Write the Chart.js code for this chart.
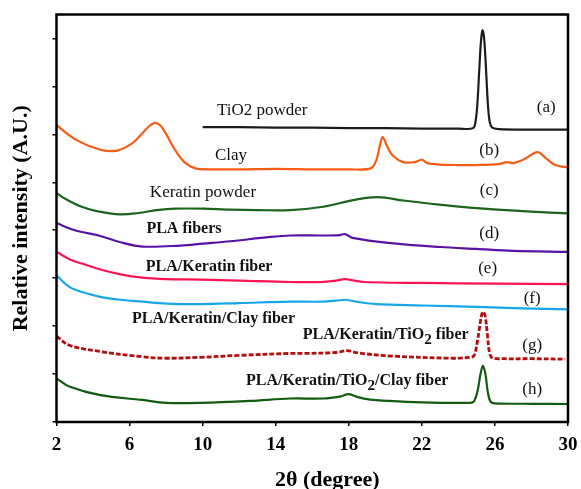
<!DOCTYPE html>
<html>
<head>
<meta charset="utf-8">
<script src="https://cdn.jsdelivr.net/npm/chart.js@4.4.0/dist/chart.umd.min.js"></script>
<style>
  html, body { margin: 0; padding: 0; background: #fff; }
</style>
</head>
<body>
<canvas id="xrd" width="581" height="489"></canvas>
<script>
// XRD patterns, 2-theta vs relative intensity (stacked, arbitrary units)

const tio2X = [10, 12, 14, 16, 18, 20, 22, 24, 24.8, 24.95, 25.05, 25.15, 25.25, 25.33, 25.42, 25.52, 25.62, 25.72, 25.85, 26.2, 28, 30];
const tio2Y = [6.15, 6.15, 6.14, 6.14, 6.13, 6.13, 6.12, 6.12, 6.13, 6.3, 6.7, 7.4, 8.0, 8.17, 7.95, 7.3, 6.6, 6.25, 6.14, 6.11, 6.1, 6.1];

const clayX = [2, 3.1, 4.4, 5.3, 6.1, 6.6, 7.1, 7.4, 7.7, 7.95, 8.5, 9.0, 9.6, 10.5, 12, 14, 16, 18, 19.2, 19.5, 19.75, 19.86, 20.1, 20.4, 20.98, 21.6, 22.0, 22.3, 23, 24, 25, 26.2, 26.66, 27, 27.6, 28.33, 28.8, 29.3, 30];
const clayY = [6.19, 5.88, 5.68, 5.66, 5.8, 5.98, 6.18, 6.24, 6.18, 6.04, 5.67, 5.42, 5.29, 5.27, 5.27, 5.28, 5.27, 5.27, 5.29, 5.45, 5.85, 5.94, 5.75, 5.56, 5.42, 5.42, 5.47, 5.4, 5.37, 5.36, 5.36, 5.38, 5.42, 5.4, 5.48, 5.63, 5.5, 5.36, 5.31];

const keratinX = [2, 2.5, 3.3, 4.2, 5.5, 6.5, 7.5, 8.5, 10, 11.5, 13, 14.8, 16.6, 18.4, 19.6, 21, 22.8, 25.4, 27.5, 30];
const keratinY = [4.78, 4.65, 4.5, 4.4, 4.33, 4.36, 4.42, 4.45, 4.45, 4.43, 4.42, 4.42, 4.49, 4.64, 4.69, 4.62, 4.54, 4.45, 4.4, 4.35];

const plaX = [2, 3, 4.4, 5.5, 6.7, 8.8, 10, 11.5, 13.7, 14.8, 16.6, 17.5, 17.8, 18.2, 20.3, 23, 25, 27, 30];
const plaY = [4.15, 4.0, 3.88, 3.75, 3.66, 3.68, 3.72, 3.77, 3.86, 3.89, 3.89, 3.9, 3.92, 3.84, 3.73, 3.65, 3.61, 3.57, 3.55];

const plaKerX = [2, 2.8, 3.6, 4.4, 5.5, 6.7, 8, 9.9, 12, 14.8, 16.5, 17.3, 17.8, 18.3, 18.8, 22, 26, 30];
const plaKerY = [3.55, 3.38, 3.28, 3.18, 3.08, 3.01, 2.98, 2.97, 2.95, 2.92, 2.92, 2.95, 2.98, 2.95, 2.92, 2.9, 2.885, 2.875];

const plaKerClayX = [2, 2.7, 3.5, 4.4, 5.5, 6.7, 8, 9.9, 12, 14.8, 16.5, 17.3, 17.8, 18.4, 19.5, 22, 25, 27.5, 30];
const plaKerClayY = [3.06, 2.82, 2.7, 2.61, 2.55, 2.51, 2.47, 2.46, 2.48, 2.51, 2.51, 2.53, 2.55, 2.51, 2.46, 2.43, 2.4, 2.37, 2.35];

const plaKerTiX = [2, 2.7, 4.4, 6.7, 8, 9.9, 12, 14.8, 15.5, 17.3, 17.9, 18.5, 20.4, 23.7, 24.6, 24.85, 25.0, 25.15, 25.28, 25.37, 25.47, 25.58, 25.7, 25.85, 26.5, 28, 29.85];
const plaKerTiY = [1.79, 1.6, 1.47, 1.36, 1.33, 1.35, 1.39, 1.43, 1.43, 1.45, 1.49, 1.44, 1.375, 1.33, 1.35, 1.38, 1.6, 1.95, 2.25, 2.3, 2.2, 1.85, 1.45, 1.34, 1.32, 1.32, 1.31];

const plaKerTiClayX = [2, 2.7, 4.4, 6.7, 8, 9.9, 12.6, 14.8, 16.6, 17.5, 18, 18.5, 19.3, 22, 24.6, 24.85, 25.05, 25.2, 25.34, 25.48, 25.6, 25.75, 26, 28, 30];
const plaKerTiClayY = [0.91, 0.74, 0.56, 0.46, 0.4, 0.4, 0.44, 0.49, 0.49, 0.53, 0.58, 0.52, 0.46, 0.41, 0.4, 0.43, 0.65, 0.98, 1.17, 1.0, 0.65, 0.43, 0.39, 0.38, 0.375];

const xTicks = [2, 6, 10, 14, 18, 22, 26, 30];

// curve names written beside each pattern, and the (a)-(h) tags
const labelTexts = ['TiO2 powder', 'Clay', 'Keratin powder', 'PLA fibers', 'PLA/Keratin fiber', 'PLA/Keratin/Clay fiber', 'PLA/Keratin/TiO_2 fiber', 'PLA/Keratin/TiO_2/Clay fiber'];
const labelX = [10.78, 10.67, 7.11, 6.92, 6.89, 6.13, 15.48, 12.37];
const labelY = [6.5, 5.56, 4.79, 4.02, 3.23, 2.15, 1.81, 0.86];
const labelBold = [false, false, false, true, true, true, true, true];

const tagTexts = ['(a)', '(b)', '(c)', '(d)', '(e)', '(f)', '(g)', '(h)'];
const tagX = [28.81, 25.69, 25.69, 25.69, 25.6, 28.04, 28.04, 28.04];
const tagY = [6.56, 5.67, 4.82, 3.94, 3.21, 2.58, 1.6, 0.67];

const xTitle = '2θ (degree)';
const yTitle = 'Relative intensity (A.U.)';

const pts = (xs, ys) => xs.map((x, i) => ({ x: x, y: ys[i] }));

function series(xs, ys, color, dash) {
    return {
        data: pts(xs, ys),
        borderColor: color,
        borderWidth: dash ? 2.8 : 2.2,
        borderDash: dash || [],
        pointRadius: 0,
        fill: false,
        tension: 0.35
    };
}

const SERIF = '"Liberation Serif", "Times New Roman", serif';

// draws text where "_2" becomes a lowered subscript
function drawRich(ctx, text, x, y, size, bold) {
    const w = bold ? 'bold ' : '';
    const parts = text.split(/(_\d)/);
    let cx = x;
    parts.forEach(p => {
        if (!p) return;
        if (p[0] === '_') {
            ctx.font = w + (size * 0.95) + 'px ' + SERIF;
            ctx.fillText(p.slice(1), cx, y + size * 0.3);
            cx += ctx.measureText(p.slice(1)).width;
        } else {
            ctx.font = w + size + 'px ' + SERIF;
            ctx.fillText(p, cx, y);
            cx += ctx.measureText(p).width;
        }
    });
}

const annotations = {
    id: 'annotations',
    afterDatasetsDraw(chart) {
        const { ctx, scales: { x, y } } = chart;
        ctx.save();
        ctx.fillStyle = '#111';
        ctx.textBaseline = 'middle';
        ctx.textAlign = 'left';
        labelTexts.forEach((t, i) => {
            const size = labelBold[i] ? 16 : 17;
            drawRich(ctx, t, x.getPixelForValue(labelX[i]), y.getPixelForValue(labelY[i]), size, labelBold[i]);
        });
        ctx.textAlign = 'center';
        ctx.font = '17px ' + SERIF;
        tagTexts.forEach((t, i) => {
            ctx.fillText(t, x.getPixelForValue(tagX[i]), y.getPixelForValue(tagY[i]));
        });
        ctx.restore();
    },
    afterDraw(chart) {
        const { ctx, chartArea: a } = chart;
        ctx.save();
        ctx.strokeStyle = '#000';
        ctx.lineWidth = 2.5;
        ctx.strokeRect(a.left, a.top, a.right - a.left, a.bottom - a.top);
        // x axis title, sits a little right of centre in the original
        ctx.fillStyle = '#000';
        ctx.font = 'bold 22px ' + SERIF;
        ctx.textAlign = 'center';
        ctx.textBaseline = 'middle';
        ctx.fillText(xTitle, (a.left + a.right) / 2 + 15, chart.height - 9);
        ctx.restore();
    }
};

new Chart(document.getElementById('xrd').getContext('2d'), {
    type: 'line',
    data: {
        datasets: [
            series(tio2X, tio2Y, '#1c1c1c'),
            series(clayX, clayY, '#f75b16'),
            series(keratinX, keratinY, '#1b641b'),
            series(plaX, plaY, '#5a12a4'),
            series(plaKerX, plaKerY, '#fb1452'),
            series(plaKerClayX, plaKerClayY, '#18a6ea'),
            series(plaKerTiX, plaKerTiY, '#b01010', [5, 2]),
            series(plaKerTiClayX, plaKerTiClayY, '#115c11')
        ]
    },
    options: {
        responsive: false,
        animation: false,
        layout: { padding: { left: 0, top: 14.5, right: 13, bottom: 0 } },
        plugins: { legend: { display: false }, tooltip: { enabled: false } },
        scales: {
            x: {
                type: 'linear',
                min: 2,
                max: 30,
                afterBuildTicks: s => { s.ticks = xTicks.map(v => ({ value: v })); },
                afterFit: s => { s.height = 67; s.paddingLeft = 0; s.paddingRight = 0; },
                grid: { drawOnChartArea: false, drawTicks: true, tickLength: 4, color: '#000', lineWidth: 1.5 },
                border: { display: false },
                ticks: {
                    color: '#000',
                    padding: 7.5,
                    maxRotation: 0,
                    font: { family: SERIF, size: 19, weight: 'bold' }
                }
            },
            y: {
                min: 0,
                max: 8.5,
                ticks: { display: false, stepSize: 1 },
                afterBuildTicks: s => { s.ticks = s.ticks.filter(t => Number.isInteger(t.value)); },
                afterFit: s => { s.width = 56.5; s.paddingTop = 0; s.paddingBottom = 0; },
                grid: { drawOnChartArea: false, drawTicks: true, tickLength: 4, color: '#000', lineWidth: 1.5 },
                border: { display: false },
                title: {
                    display: true,
                    text: yTitle,
                    color: '#000',
                    padding: { top: 8, bottom: 0 },
                    font: { family: SERIF, size: 22, weight: 'bold' }
                }
            }
        }
    },
    plugins: [annotations]
});
</script>
</body>
</html>
